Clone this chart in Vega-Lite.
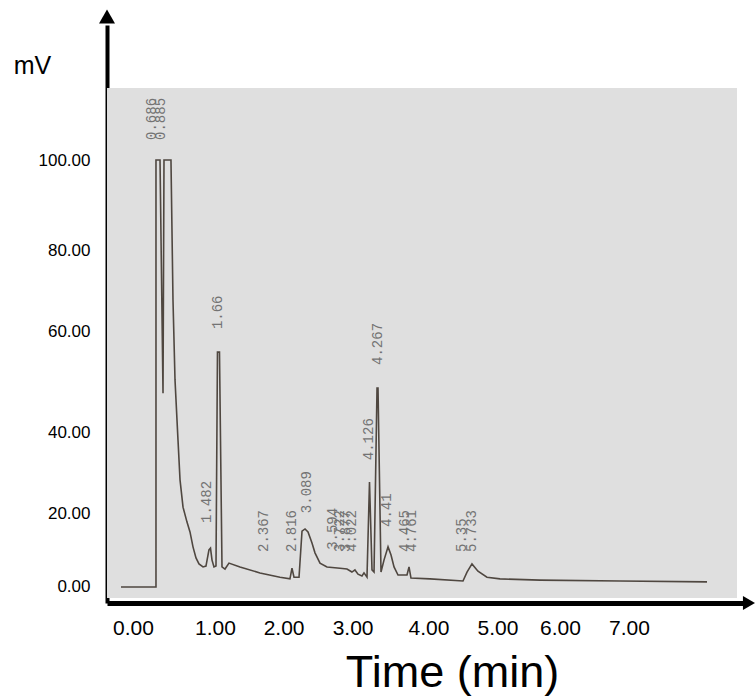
{
  "$schema": "https://vega.github.io/schema/vega-lite/v6.json",
  "autosize": {"type": "none"},
  "padding": {"left": 107, "top": 25, "right": 12, "bottom": 93},
  "width": 636,
  "height": 578,
  "background": "white",
  "config": {"view": {"stroke": null}},
  "datasets": {
    "one": [{}],
    "trace": [
      {"t": 0.075, "v": 0}, {"t": 0.647, "v": 0}, {"t": 0.647, "v": 100}, {"t": 0.713, "v": 100},
      {"t": 0.762, "v": 45.4}, {"t": 0.778, "v": 100}, {"t": 0.892, "v": 100}, {"t": 0.925, "v": 67.2},
      {"t": 0.958, "v": 48.5}, {"t": 1.007, "v": 34.4}, {"t": 1.04, "v": 25.1}, {"t": 1.089, "v": 18.7},
      {"t": 1.154, "v": 15.2}, {"t": 1.203, "v": 12.9}, {"t": 1.252, "v": 9.4}, {"t": 1.301, "v": 6.8},
      {"t": 1.35, "v": 5.4}, {"t": 1.416, "v": 4.7}, {"t": 1.464, "v": 4.9}, {"t": 1.513, "v": 8.7},
      {"t": 1.538, "v": 9.1}, {"t": 1.563, "v": 6.3}, {"t": 1.595, "v": 4.7}, {"t": 1.628, "v": 4.9},
      {"t": 1.652, "v": 55.0}, {"t": 1.685, "v": 55.0}, {"t": 1.726, "v": 4.7}, {"t": 1.775, "v": 4.2},
      {"t": 1.84, "v": 5.6}, {"t": 2.02, "v": 4.7}, {"t": 2.347, "v": 3.3}, {"t": 2.674, "v": 2.3},
      {"t": 2.837, "v": 1.9}, {"t": 2.87, "v": 4.4}, {"t": 2.903, "v": 2.3}, {"t": 2.985, "v": 2.3},
      {"t": 3.034, "v": 13.1}, {"t": 3.083, "v": 13.6}, {"t": 3.132, "v": 12.9}, {"t": 3.197, "v": 10.3},
      {"t": 3.246, "v": 8.0}, {"t": 3.328, "v": 5.6}, {"t": 3.442, "v": 4.7}, {"t": 3.655, "v": 4.4},
      {"t": 3.769, "v": 4.2}, {"t": 3.85, "v": 3.5}, {"t": 3.899, "v": 4.0}, {"t": 3.949, "v": 3.0},
      {"t": 4.014, "v": 2.6}, {"t": 4.047, "v": 3.3}, {"t": 4.096, "v": 2.3}, {"t": 4.137, "v": 24.6},
      {"t": 4.178, "v": 4.0}, {"t": 4.211, "v": 3.5}, {"t": 4.26, "v": 46.6}, {"t": 4.276, "v": 46.6},
      {"t": 4.325, "v": 3.5}, {"t": 4.374, "v": 6.3}, {"t": 4.44, "v": 9.4}, {"t": 4.489, "v": 7.5},
      {"t": 4.538, "v": 4.7}, {"t": 4.603, "v": 2.8}, {"t": 4.75, "v": 2.8}, {"t": 4.783, "v": 4.7},
      {"t": 4.815, "v": 2.1}, {"t": 5.126, "v": 1.9}, {"t": 5.665, "v": 1.4}, {"t": 5.731, "v": 3.5},
      {"t": 5.812, "v": 5.4}, {"t": 5.91, "v": 3.7}, {"t": 6.057, "v": 2.3}, {"t": 6.27, "v": 1.9},
      {"t": 6.924, "v": 1.6}, {"t": 8.232, "v": 1.4}, {"t": 9.654, "v": 1.2}
    ],
    "labels": [
      {"t": 0.582, "v": 104.7, "label": "0.686"},
      {"t": 0.729, "v": 104.7, "label": "0.885"},
      {"t": 1.481, "v": 15.0, "label": "1.482"},
      {"t": 1.66, "v": 60.4, "label": "1.66"},
      {"t": 2.412, "v": 8.2, "label": "2.367"},
      {"t": 2.87, "v": 8.2, "label": "2.816"},
      {"t": 3.115, "v": 17.3, "label": "3.089"},
      {"t": 3.539, "v": 8.7, "label": "3.594"},
      {"t": 3.66, "v": 8.2, "label": "3.722"},
      {"t": 3.76, "v": 8.2, "label": "3.877"},
      {"t": 3.85, "v": 8.2, "label": "4.022"},
      {"t": 4.129, "v": 29.7, "label": "4.126"},
      {"t": 4.268, "v": 52.0, "label": "4.267"},
      {"t": 4.423, "v": 14.05, "label": "4.41"},
      {"t": 4.717, "v": 8.2, "label": "4.465"},
      {"t": 4.83, "v": 8.2, "label": "4.761"},
      {"t": 5.649, "v": 8.2, "label": "5.35"},
      {"t": 5.812, "v": 8.2, "label": "5.733"}
    ]
  },
  "layer": [
    {
      "data": {"name": "one"},
      "mark": {"type": "rect", "color": "#dfdfdf"},
      "encoding": {
        "x": {
          "datum": -0.1536, "type": "quantitative",
          "scale": {"domain": [-0.1536, 10.242], "nice": false, "zero": false},
          "axis": {
            "title": "Time (min)",
            "values": [0.271, 1.612, 2.733, 3.861, 5.101, 6.229, 7.251, 8.379],
            "labelExpr": "format(round(datum.index*7), '.2f')",
            "ticks": false, "tickSize": 0, "grid": false,
            "domainColor": "black", "domainWidth": 5,
            "labelFont": "Liberation Sans", "labelFontSize": 21, "labelColor": "black",
            "labelPadding": 14, "labelFlush": false, "labelOverlap": false,
            "titleFont": "Liberation Sans", "titleFontSize": 45, "titleFontWeight": "normal", "titleColor": "black",
            "titleX": 345, "titleY": 83, "titleBaseline": "alphabetic", "titleAlign": "center"
          }
        },
        "x2": {"datum": 10.144},
        "y": {
          "datum": 116.86, "type": "quantitative",
          "scale": {"domain": [-3.747, 131.62], "nice": false, "zero": false},
          "axis": {
            "title": "mV",
            "values": [0.23, 17.33, 36.07, 59.95, 78.92, 100],
            "labelExpr": "format(round(datum.index*5)*20, '.2f')",
            "ticks": false, "tickSize": 0, "grid": false,
            "domainColor": "black", "domainWidth": 4,
            "labelFont": "Liberation Sans", "labelFontSize": 17, "labelColor": "black",
            "labelPadding": 17, "labelFlush": false, "labelOverlap": false,
            "titleFont": "Liberation Sans", "titleFontSize": 25, "titleFontWeight": "normal", "titleColor": "black",
            "titleAngle": 0, "titleX": -75, "titleY": 48, "titleBaseline": "alphabetic", "titleAlign": "center"
          }
        },
        "y2": {"datum": -2.58}
      }
    },
    {
      "data": {"name": "trace"},
      "mark": {"type": "line", "color": "#4f4740", "strokeWidth": 1.6, "interpolate": "linear"},
      "encoding": {
        "x": {"field": "t", "type": "quantitative"},
        "y": {"field": "v", "type": "quantitative"},
        "order": {"value": null}
      }
    },
    {
      "data": {"name": "labels"},
      "mark": {"type": "text", "angle": 270, "align": "left", "baseline": "middle", "font": "Liberation Mono", "fontSize": 14, "color": "#737373"},
      "encoding": {
        "x": {"field": "t", "type": "quantitative"},
        "y": {"field": "v", "type": "quantitative"},
        "text": {"field": "label"}
      }
    },
    {
      "data": {"name": "one"},
      "mark": {"type": "point", "shape": "triangle-up", "filled": true, "color": "black", "opacity": 1, "size": 256, "yOffset": -8.5},
      "encoding": {
        "x": {"datum": -0.1536, "type": "quantitative"},
        "y": {"datum": 131.62, "type": "quantitative"}
      }
    },
    {
      "data": {"name": "one"},
      "mark": {"type": "point", "shape": "triangle-right", "filled": true, "color": "black", "opacity": 1, "size": 196, "xOffset": 6},
      "encoding": {
        "x": {"datum": 10.242, "type": "quantitative"},
        "y": {"datum": -3.747, "type": "quantitative"}
      }
    }
  ]
}
